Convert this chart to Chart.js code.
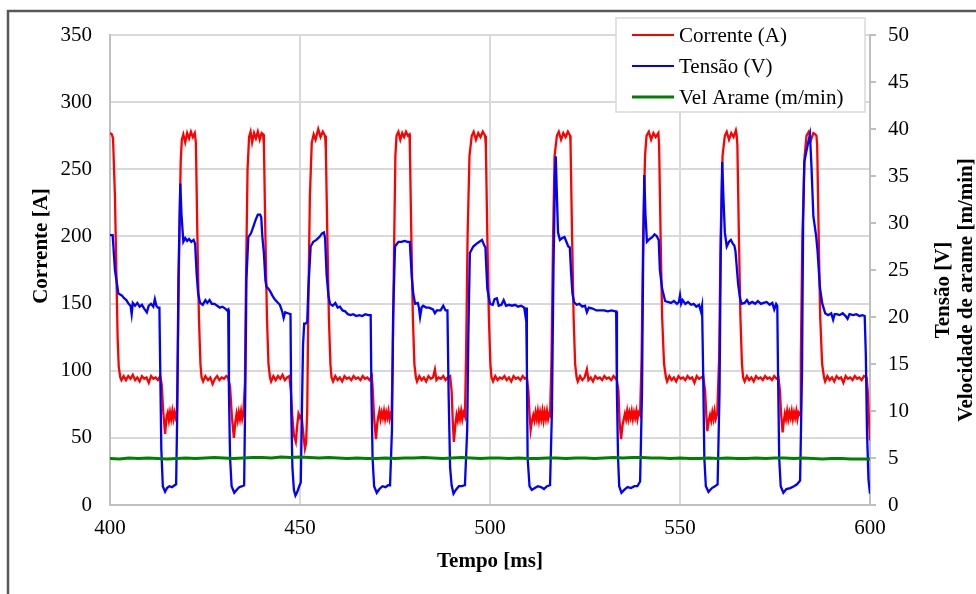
<!DOCTYPE html>
<html><head><meta charset="utf-8">
<script src="https://cdn.jsdelivr.net/npm/chart.js@4.4.1/dist/chart.umd.min.js"></script>
<style>html,body{margin:0;padding:0;background:#fff;overflow:hidden}canvas{display:block}</style>
</head><body>
<canvas id="c" width="976" height="594"></canvas>
<script>
// ---- tick labels ----
const xTicks = [400, 450, 500, 550, 600];
const leftTicks = [0, 50, 100, 150, 200, 250, 300, 350];
const rightTicks = [0, 5, 10, 15, 20, 25, 30, 35, 40, 45, 50];

// ---- titles / labels ----
const seriesLabels = ['Corrente (A)', 'Tensão (V)', 'Vel Arame (m/min)'];
const xTitle = 'Tempo [ms]';
const leftTitle = 'Corrente [A]';
const rightTitles = ['Tensão [V]', 'Velocidade de arame [m/min]'];

// ---- series: [tempo ms, valor] ----
const corrente = [
[400.0,277],[400.5,276],[400.8,273],[401.3,230],[401.7,170],[402.0,125],[402.3,103],[402.7,95],[403.0,93],
[403.6,96],[404.2,93],[404.8,96],[405.4,94],[406.0,97],[406.6,93],[407.2,95],[407.8,92],[408.4,96],[409.0,94],[409.6,95],[410.2,91],[410.8,96],[411.4,94],[412.0,95],[412.6,93],[413.2,96],
[413.6,90],[414.0,70],[414.5,53],[414.9,66],[415.2,69],[415.5,63],[415.8,69],[416.1,64],[416.4,70],[416.7,64],[417.0,69],[417.3,65],[417.6,68],
[417.8,100],[418.2,190],[418.6,255],[418.9,272],[419.3,276],[419.8,270],[420.3,277],[420.8,273],[421.3,278],[421.8,274],[422.3,277],
[422.6,270],[423.0,200],[423.4,140],[423.8,105],[424.1,95],[424.5,92],
[425.1,96],[425.8,93],[426.4,95],[427.0,90],[427.6,94],[428.2,96],[428.8,93],[429.4,95],[430.0,94],[430.6,96],[431.1,95],
[431.6,88],[432.1,65],[432.6,50],[433.0,62],[433.3,68],[433.6,63],[433.9,69],[434.2,64],[434.5,70],[434.8,64],[435.1,68],
[435.5,90],[435.8,170],[436.2,250],[436.6,274],[437.0,278],[437.4,270],[437.9,277],[438.4,273],[438.9,278],[439.4,272],[439.9,277],[440.3,276],
[440.5,268],[440.9,200],[441.3,140],[441.7,105],[442.1,95],[442.4,92],
[443.0,96],[443.6,93],[444.2,96],[444.8,94],[445.4,97],[446.0,93],[446.6,95],[447.2,96],
[447.6,85],[448.0,65],[448.4,52],[448.9,47],[449.3,60],[449.6,68],[450.0,65],[450.4,67],[450.8,55],[451.3,42],[451.6,46],[451.9,70],
[452.2,150],[452.6,230],[453.1,270],[453.6,276],[454.1,272],[454.8,280],[455.4,274],[456.0,278],[456.6,275],
[456.8,265],[457.2,200],[457.6,140],[458.0,105],[458.3,95],[458.7,92],
[459.3,96],[459.9,93],[460.5,95],[461.1,92],[461.7,96],[462.3,94],[462.9,95],[463.5,93],[464.1,96],[464.7,94],[465.3,95],[465.9,93],[466.5,96],[467.1,94],[467.7,95],[468.3,93],[468.9,96],
[469.1,88],[469.5,65],[470.0,49],[470.3,60],[470.6,66],[470.9,70],[471.2,64],[471.5,69],[471.8,65],[472.1,70],[472.4,64],[472.7,69],[473.0,65],[473.3,70],[473.6,64],[473.9,68],[474.1,67],
[474.4,110],[474.8,200],[475.1,260],[475.4,275],[475.9,278],[476.4,272],[476.9,277],[477.4,274],[477.9,278],[478.4,275],[478.8,276],
[478.9,268],[479.3,200],[479.7,140],[480.1,105],[480.5,95],[480.8,92],
[481.4,96],[482.0,93],[482.6,95],[483.2,92],[483.8,96],[484.4,94],[485.0,95],[485.5,101],[485.9,93],[486.5,95],[487.1,94],[487.7,96],[488.3,93],[488.9,95],[489.5,96],
[489.9,85],[490.2,62],[490.5,47],[490.9,60],[491.2,67],[491.5,63],[491.8,69],[492.1,64],[492.4,70],[492.7,64],[493.0,69],[493.4,66],
[493.7,110],[494.1,200],[494.6,260],[495.2,275],[495.7,278],[496.3,272],[496.9,277],[497.5,274],[498.1,278],[498.7,275],
[498.9,268],[499.3,200],[499.7,140],[500.1,105],[500.4,95],[500.8,92],
[501.4,96],[502.0,93],[502.6,95],[503.2,94],[503.8,96],[504.4,93],[505.0,95],[505.6,92],[506.2,96],[506.8,94],[507.4,95],[508.0,93],[508.6,96],[509.2,94],[509.7,95],
[510.1,85],[510.4,68],[510.7,56],[511.0,62],[511.4,67],[511.7,63],[512.0,69],[512.3,64],[512.6,70],[512.9,63],[513.2,69],[513.5,64],[513.8,70],[514.1,63],[514.4,69],[514.7,64],[515.0,70],[515.3,64],[515.6,68],[515.8,67],
[516.2,110],[516.6,200],[517.0,260],[517.6,275],[518.1,278],[518.7,272],[519.3,277],[519.9,274],[520.5,278],[521.1,275],
[521.2,268],[521.6,200],[522.0,140],[522.4,105],[522.8,95],[523.1,92],
[523.7,96],[524.3,93],[524.9,95],[525.5,101],[525.9,93],[526.5,95],[527.1,92],[527.7,96],[528.3,94],[528.9,95],[529.5,93],[530.1,96],[530.7,94],[531.3,95],[531.9,93],[532.5,96],[533.1,94],[533.3,95],
[533.8,85],[534.1,62],[534.5,49],[534.9,60],[535.5,68],[535.8,64],[536.1,70],[536.4,64],[536.7,69],[537.0,65],[537.3,70],[537.6,64],[537.9,69],[538.2,65],[538.5,70],[538.8,64],[539.1,69],[539.5,67],
[539.9,110],[540.3,200],[540.8,260],[541.2,275],[541.8,278],[542.4,272],[543.0,277],[543.6,274],[544.3,277],
[544.5,268],[544.9,200],[545.3,140],[545.8,105],[546.3,95],[546.6,92],
[547.2,96],[547.8,93],[548.4,95],[549.0,92],[549.6,96],[550.2,94],[550.8,95],[551.4,93],[552.0,96],[552.6,94],[553.2,95],[553.8,91],[554.4,96],[555.0,94],[555.6,95],[556.1,96],
[556.6,85],[556.9,68],[557.2,55],[557.5,62],[557.9,67],[558.2,63],[558.5,69],[558.8,64],[559.1,70],[559.4,64],[559.8,68],
[560.3,110],[560.7,200],[561.2,260],[561.8,275],[562.3,278],[562.9,272],[563.5,277],[564.1,274],[564.7,279],[564.9,276],
[565.1,268],[565.5,200],[565.9,140],[566.3,105],[566.6,95],[567.0,92],
[567.6,96],[568.2,93],[568.8,95],[569.4,92],[570.0,96],[570.6,94],[571.2,95],[571.8,93],[572.4,96],[573.0,94],[573.6,95],[574.2,93],[574.8,96],[575.4,94],[575.9,95],
[576.3,85],[576.6,68],[577.0,54],[577.3,62],[577.6,68],[577.9,64],[578.2,70],[578.5,64],[578.8,69],[579.1,65],[579.4,70],[579.7,64],[580.0,69],[580.3,65],[580.6,70],[580.9,64],[581.2,69],[581.6,67],
[581.8,110],[582.2,200],[582.8,260],[583.3,275],[583.9,278],[584.5,272],[585.1,277],[585.6,276],[585.9,275],
[586.1,268],[586.5,200],[586.9,140],[587.4,105],[587.9,95],[588.2,92],
[588.8,96],[589.4,93],[590.0,95],[590.6,92],[591.2,96],[591.8,94],[592.4,95],[593.0,91],[593.6,96],[594.2,94],[594.8,95],[595.4,93],[596.0,96],[596.6,94],[597.2,95],[597.8,93],[598.4,96],[599.1,95],
[599.4,85],[599.7,65],[600.0,48]
];

const tensao = [
[400.0,28.7],[400.7,28.7],[401.3,25.0],[402.2,22.5],[403.1,22.3],[403.7,22.0],[404.3,21.8],[404.9,21.4],[405.4,21.2],[405.7,20.3],[406.0,21.5],[406.6,21.2],[407.2,21.5],[407.8,21.1],[408.4,21.3],[409.0,20.9],[409.7,20.5],[410.2,21.2],[410.8,21.4],[411.4,21.1],[411.8,21.9],[412.2,21.2],[412.6,21.0],[413.0,21.0],
[413.2,15],[413.5,6],[413.9,2.0],[414.5,1.4],[415.0,1.8],[415.6,2.0],[416.3,1.9],[417.0,2.1],[417.4,2.2],
[417.7,10],[418.0,24],[418.5,34.2],[418.8,31],[419.3,28.0],[419.8,28.4],[420.3,28.1],[420.8,28.3],[421.4,28.0],[422.0,28.2],[422.4,27.8],
[422.8,24.6],[423.2,22.5],[423.7,21.5],[424.4,21.3],[425.1,21.8],[425.6,21.5],[426.2,21.8],[426.8,21.4],[427.5,21.4],[428.2,21.2],[428.9,21.0],[429.6,21.1],[430.3,20.9],[430.8,20.7],[431.1,20.8],
[431.3,12],[431.6,5],[432.0,2.0],[432.7,1.3],[433.3,1.6],[434.0,1.9],[434.8,2.0],[435.3,2.1],
[435.6,12],[435.9,24],[436.4,28.5],[437.1,28.9],[437.7,29.6],[438.3,30.3],[438.9,30.9],[439.5,30.9],[439.8,30.6],
[440.1,28.5],[440.5,26.8],[440.9,23.9],[441.2,23.2],[441.7,23.0],[442.2,22.7],[442.7,22.3],[443.3,21.9],[444.0,21.6],[444.7,21.3],[445.3,20.6],[445.7,19.9],[446.1,20.5],[446.8,20.4],[447.5,20.3],
[447.7,10],[448.0,4],[448.4,1.6],[448.8,1.0],[449.3,1.4],[449.8,2.0],[450.2,2.4],
[450.5,10],[450.8,17],[451.1,19.3],[451.5,19.3],[451.9,19.5],[452.2,23],[452.8,27.5],[453.5,28.0],[454.3,28.2],[455.1,28.5],[455.8,28.9],[456.3,29.0],[456.6,28.4],
[457.0,24.5],[457.5,22.2],[457.9,21.4],[458.6,21.2],[459.3,21.5],[459.9,21.0],[460.5,21.1],[461.2,20.7],[461.9,20.6],[462.6,20.3],[463.3,20.2],[464.0,20.3],[464.8,20.1],[465.6,20.2],[466.4,20.1],[467.2,20.3],[468.0,20.2],[468.6,20.2],
[468.8,12],[469.1,5],[469.5,2.0],[470.2,1.3],[470.9,1.7],[471.7,2.0],[472.5,1.9],[473.2,2.1],[473.7,2.1],
[474.2,8],[474.5,20],[475.0,27.5],[475.9,28.0],[476.7,28.0],[477.5,28.1],[478.3,28.0],[478.9,28.0],
[479.1,26.5],[479.4,24.3],[479.8,22.5],[480.3,21.4],[481.0,21.5],[481.3,21.0],[481.6,20.0],[482.0,21.0],[482.4,21.2],[483.2,21.0],[484.0,21.0],[485.0,20.8],[485.5,20.4],[486.0,20.7],[487.0,20.7],[487.7,21.2],[488.3,20.7],[488.8,20.7],
[489.1,12],[489.5,4],[489.9,2.1],[490.4,1.2],[491.0,1.6],[491.8,2.0],[492.6,2.0],[493.4,2.1],
[494.0,8],[494.3,18],[494.7,26.8],[495.6,27.5],[496.5,27.8],[497.2,28.0],[497.9,28.2],[498.5,27.6],[498.8,27.4],
[499.0,25.5],[499.3,23.0],[500.0,21.4],[500.7,21.3],[501.2,21.9],[501.8,22.0],[502.3,21.2],[503.0,21.3],[503.6,21.8],[504.2,21.2],[505.0,21.3],[505.8,21.2],[506.6,21.3],[507.4,21.1],[508.2,21.2],[509.0,21.0],[509.3,20.2],[509.5,21.0],
[509.7,15],[509.9,5],[510.4,2.0],[511.0,1.6],[511.8,1.8],[512.6,2.0],[513.4,1.9],[514.2,1.7],[515.0,2.0],[515.8,2.1],
[516.3,10],[516.7,25],[517.1,35],[517.3,37.1],[517.6,33],[517.9,29],[518.4,28.2],[519.0,28.4],[519.6,28.5],[520.1,28.0],[520.6,27.5],[521.0,27.4],
[521.3,25],[521.7,22.5],[522.1,21.6],[522.8,21.3],[523.5,21.4],[524.3,21.1],[525.0,21.2],[525.5,20.5],[526.0,21.0],[527.0,20.9],[528.0,20.7],[529.0,20.7],[530.0,20.7],[531.0,20.6],[532.0,20.7],[533.0,20.6],[533.2,20.6],
[533.4,12],[533.7,5],[534.0,2.0],[534.6,1.3],[535.3,1.6],[536.2,1.9],[537.1,1.8],[538.0,2.0],[538.8,2.0],[539.5,2.5],
[540.0,12],[540.3,26],[540.6,35.1],[540.9,31],[541.3,28.0],[542.0,28.3],[542.7,28.5],[543.3,28.8],[543.9,28.6],[544.4,28.2],
[544.7,25.0],[545.3,23.0],[546.1,21.7],[546.8,21.6],[547.6,21.5],[548.4,21.7],[549.2,21.4],[549.7,21.6],[550.0,22.3],[550.3,21.4],[550.7,21.8],[551.4,21.4],[552.1,21.6],[552.9,21.3],[553.6,21.4],[554.3,21.1],[555.0,21.3],[555.5,20.6],[555.8,21.2],
[556.1,14],[556.4,5],[556.8,2.0],[557.5,1.4],[558.4,1.8],[559.2,2.0],[559.9,2.2],
[560.4,12],[560.7,26],[561.1,36.5],[561.4,33],[561.8,29],[562.3,27.5],[562.9,28.0],[563.4,28.2],[563.9,27.8],[564.3,27.6],
[564.6,27.0],[564.9,25.5],[565.3,23.5],[565.8,22.0],[566.2,21.4],[567.0,21.5],[567.6,21.8],[568.2,21.4],[569.0,21.6],[569.8,21.4],[570.5,21.7],[571.3,21.4],[572.0,21.5],[572.8,21.6],[573.6,21.3],[574.3,21.5],[574.8,20.8],[575.3,21.4],[575.6,21.2],
[575.8,14],[576.1,5],[576.5,2.0],[577.2,1.3],[578.0,1.7],[579.0,1.8],[580.0,2.0],[580.8,2.2],[581.6,2.6],
[582.1,14],[582.4,30],[582.7,36.5],[583.2,37.5],[583.7,38.5],[584.2,39.4],[584.6,36],[585.1,30.7],[585.8,28.7],[586.2,27.0],
[586.8,23.2],[587.4,21.5],[588.2,20.4],[589.0,20.2],[589.8,20.4],[590.3,19.7],[590.7,20.3],[591.2,20.3],[592.0,20.2],[592.8,20.4],[593.6,20.1],[594.1,19.8],[594.6,20.3],[595.6,20.2],[596.4,20.3],[597.2,20.1],[598.0,20.2],[598.6,20.1],
[598.9,16],[599.2,8],[599.6,2.7],[600.0,1.2]
];

const velArame = [
[400,4.95],[402.5,4.9],[405,5.0],[407.5,4.95],[410,5.0],[412.5,4.95],[415,4.9],[417.5,4.95],[420,5.0],[422.5,4.95],
[425,5.0],[427.5,5.05],[430,5.0],[432.5,4.95],[435,5.0],[437.5,5.05],[440,5.05],[442.5,5.0],[445,5.1],[447.5,5.05],
[450,5.1],[452.5,5.05],[455,5.0],[457.5,5.05],[460,5.0],[462.5,4.95],[465,5.0],[467.5,4.95],[470,4.95],[472.5,5.0],
[475,4.95],[477.5,5.0],[480,5.0],[482.5,5.05],[485,5.0],[487.5,4.95],[490,5.0],[492.5,5.05],[495,5.0],[497.5,4.95],
[500,5.0],[502.5,5.0],[505,4.95],[507.5,5.0],[510,4.95],[512.5,4.95],[515,5.0],[517.5,5.0],[520,4.95],[522.5,5.0],
[525,5.0],[527.5,4.95],[530,5.0],[532.5,5.05],[535,5.0],[537.5,5.05],[540,5.05],[542.5,5.0],[545,5.0],[547.5,4.95],
[550,5.0],[552.5,4.95],[555,4.95],[557.5,5.0],[560,4.95],[562.5,5.0],[565,4.95],[567.5,4.95],[570,5.0],[572.5,4.95],
[575,5.0],[577.5,5.0],[580,4.95],[582.5,5.0],[585,4.95],[587.5,4.9],[590,4.95],[592.5,4.95],[595,4.9],[597.5,4.9],[600,4.9]
];

const seriesColors = ['#ff0000', '#0000ff', '#008000'];
const FONT = "'Liberation Serif', 'Times New Roman', serif";
Chart.defaults.font.family = FONT;
Chart.defaults.color = '#000';

const toXY = arr => arr.map(p => ({x: p[0], y: p[1]}));
const fixTicks = vals => scale => { scale.ticks = vals.map(v => ({value: v})); };

const decor = {
  id: 'decor',
  beforeDraw(chart) {
    const ctx = chart.ctx;
    ctx.save();
    ctx.fillStyle = '#fff';
    ctx.fillRect(0, 0, chart.width, chart.height);
    ctx.strokeStyle = '#595959';
    ctx.lineWidth = 2.5;
    ctx.beginPath();
    ctx.moveTo(8, chart.height);
    ctx.lineTo(8, 11);
    ctx.lineTo(chart.width, 11);
    ctx.stroke();
    ctx.restore();
  },
  afterDraw(chart) {
    const ctx = chart.ctx;
    const ca = chart.chartArea;
    ctx.save();
    // vertical axis titles (read bottom-to-top)
    ctx.font = 'bold 21px ' + FONT;
    ctx.fillStyle = '#000';
    ctx.textAlign = 'center';
    ctx.textBaseline = 'middle';
    const mid = (ca.top + ca.bottom) / 2;
    [[ca.left - 68, mid - 24, leftTitle],
     [ca.right + 74, mid + 20, rightTitles[0]],
     [ca.right + 97, mid + 20, rightTitles[1]]].forEach(([x, y, t]) => {
      ctx.save();
      ctx.translate(x, y);
      ctx.rotate(-Math.PI / 2);
      ctx.fillText(t, 0, 0);
      ctx.restore();
    });
    // legend box
    const bx = 616, by = 18, bw = 249, bh = 94;
    ctx.fillStyle = '#fff';
    ctx.fillRect(bx, by, bw, bh);
    ctx.strokeStyle = '#d9d9d9';
    ctx.lineWidth = 1.5;
    ctx.strokeRect(bx, by, bw, bh);
    ctx.font = '21px ' + FONT;
    ctx.textAlign = 'left';
    ctx.textBaseline = 'middle';
    chart.data.datasets.forEach((ds, i) => {
      const y = by + 17 + i * 31;
      ctx.strokeStyle = ds.borderColor;
      ctx.lineWidth = i === 2 ? 3 : 2;
      ctx.beginPath();
      ctx.moveTo(bx + 16, y);
      ctx.lineTo(bx + 58, y);
      ctx.stroke();
      ctx.fillStyle = '#000';
      ctx.fillText(ds.label, bx + 63, y + 1);
    });
    ctx.restore();
  }
};

new Chart(document.getElementById('c'), {
  type: 'line',
  data: {
    datasets: [
      {label: seriesLabels[0], data: toXY(corrente), yAxisID: 'y', borderColor: seriesColors[0], borderWidth: 2.3, pointRadius: 0, tension: 0, order: 2},
      {label: seriesLabels[1], data: toXY(tensao), yAxisID: 'y2', borderColor: seriesColors[1], borderWidth: 2.3, pointRadius: 0, tension: 0, order: 1},
      {label: seriesLabels[2], data: toXY(velArame), yAxisID: 'y2', borderColor: seriesColors[2], borderWidth: 3, pointRadius: 0, tension: 0, order: 0}
    ]
  },
  options: {
    responsive: false,
    animation: false,
    devicePixelRatio: 1,
    layout: {padding: {top: 35, left: 0, right: 0, bottom: 0}},
    plugins: {legend: {display: false}, tooltip: {enabled: false}},
    scales: {
      x: {
        type: 'linear', min: 400, max: 600,
        afterBuildTicks: fixTicks(xTicks),
        afterFit: s => { s.height = 89; },
        grid: {color: '#d9d9d9', lineWidth: 2, drawTicks: false},
        border: {color: '#bfbfbf', width: 2},
        ticks: {padding: 11, font: {size: 21}, color: '#000'},
        title: {display: true, text: xTitle, font: {size: 21, weight: 'bold'}, color: '#000', padding: {top: 0, bottom: 20}}
      },
      y: {
        position: 'left', min: 0, max: 350,
        afterBuildTicks: fixTicks(leftTicks),
        afterFit: s => { s.width = 110; },
        grid: {color: '#d9d9d9', lineWidth: 2, drawTicks: false},
        border: {color: '#bfbfbf', width: 2},
        ticks: {padding: 18, font: {size: 21}, color: '#000'}
      },
      y2: {
        position: 'right', min: 0, max: 50,
        afterBuildTicks: fixTicks(rightTicks),
        afterFit: s => { s.width = 106; },
        grid: {drawOnChartArea: false, color: '#bfbfbf', lineWidth: 2, tickLength: 6},
        border: {color: '#bfbfbf', width: 2},
        ticks: {padding: 12, font: {size: 21}, color: '#000'}
      }
    }
  },
  plugins: [decor]
});
</script>
</body></html>
